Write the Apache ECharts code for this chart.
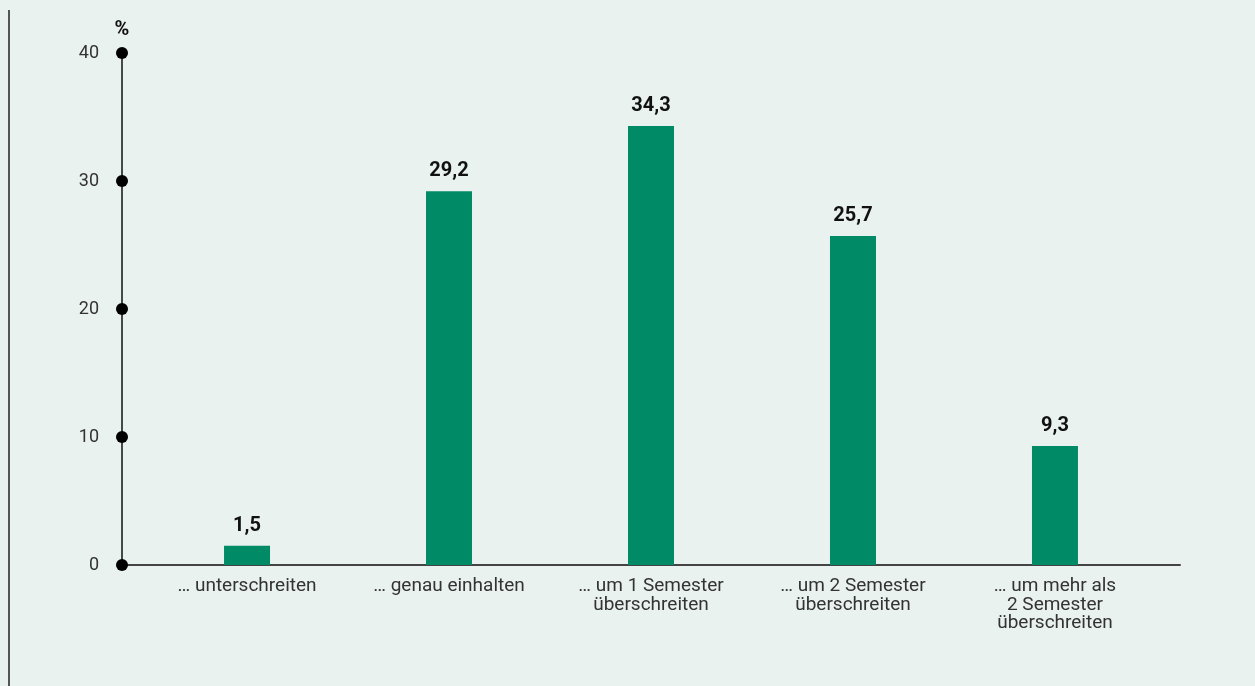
<!DOCTYPE html>
<html>
<head>
<meta charset="utf-8">
<script src="https://cdn.jsdelivr.net/npm/echarts@6/dist/echarts.min.js"></script>
<style>
  html, body { margin: 0; padding: 0; background: #e9f2ef; }
  #chart { width: 1255px; height: 686px; }
</style>
</head>
<body>
<div id="chart"></div>
<script>
// categories and values
var categories = ['… unterschreiten', '… genau einhalten', '… um 1 Semester\nüberschreiten',
    '… um 2 Semester\nüberschreiten', '… um mehr als\n2 Semester\nüberschreiten'];
var shares = [1.5, 29.2, 34.3, 25.7, 9.3];
var yTicks = [0, 10, 20, 30, 40];

var xMin = -0.619;
var xMax = 4.619;

var chart = echarts.init(document.getElementById('chart'));

var barData = shares.map(function (v, i) { return [i, v]; });
var dotData = yTicks.map(function (t) { return [xMin, t]; });

chart.setOption({
    backgroundColor: '#e9f2ef',
    textStyle: { fontFamily: 'Roboto' },
    grid: { left: 122, right: 75, top: 53, bottom: 121 },
    graphic: [{
        type: 'line',
        shape: { x1: 9, y1: 10, x2: 9, y2: 686 },
        style: { stroke: '#222', lineWidth: 1.5 }
    }],
    xAxis: {
        type: 'value',
        min: xMin,
        max: xMax,
        splitLine: { show: false },
        axisLine: { show: true, onZero: false, lineStyle: { color: '#444', width: 2 } },
        axisTick: { show: false },
        axisLabel: {
            customValues: [0, 1, 2, 3, 4],
            formatter: function (v) { return categories[Math.round(v)]; },
            color: '#333',
            fontSize: 19,
            lineHeight: 18.5,
            margin: 12,
            verticalAlign: 'top'
        }
    },
    yAxis: {
        type: 'value',
        min: 0,
        max: 40,
        interval: 10,
        name: '%',
        nameGap: 13,
        nameTextStyle: { color: '#111', fontWeight: 'bold', fontSize: 20, align: 'center' },
        splitLine: { show: false },
        axisLine: { show: true, onZero: false, lineStyle: { color: '#111', width: 1.5 } },
        axisTick: { show: false },
        axisLabel: { color: '#333', fontSize: 18, margin: 23 }
    },
    series: [
        {
            type: 'bar',
            data: barData,
            barWidth: 46,
            itemStyle: { color: '#008a66' },
            label: {
                show: true,
                position: 'top',
                distance: 10,
                color: '#111',
                fontWeight: 'bold',
                fontSize: 20,
                formatter: function (p) { return String(p.value[1]).replace('.', ','); }
            }
        },
        {
            type: 'scatter',
            data: dotData,
            symbolSize: 12,
            itemStyle: { color: '#000', opacity: 1 },
            z: 5,
            clip: false
        }
    ]
});
</script>
</body>
</html>
